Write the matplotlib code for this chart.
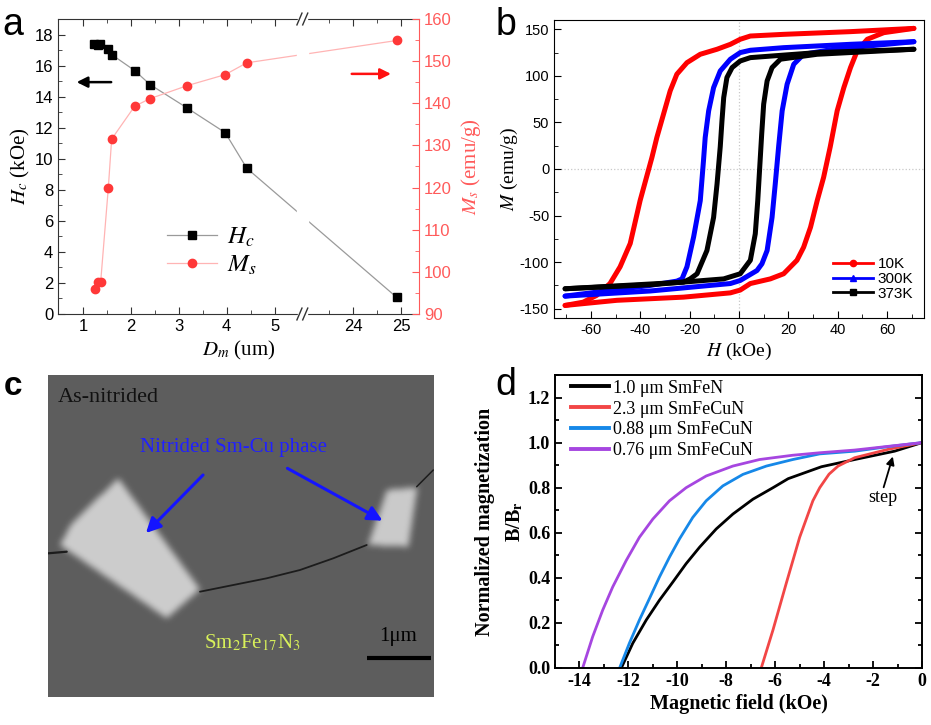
import numpy as np
import matplotlib
matplotlib.use("Agg")
import matplotlib.pyplot as plt
from matplotlib.lines import Line2D
from matplotlib.path import Path
from matplotlib.patches import Rectangle
from matplotlib.ticker import FixedLocator, MultipleLocator, FormatStrFormatter

plt.rcParams['font.family'] = ['Liberation Sans', 'DejaVu Sans']
plt.rcParams['mathtext.fontset'] = 'stix'
plt.rcParams['axes.unicode_minus'] = False
SERIF = ['Liberation Serif', 'DejaVu Serif']

# ---------------- data: panel a (Hc and Ms vs particle size) ----------------
dm_hc = [1.24, 1.31, 1.36, 1.53, 1.60, 2.08, 2.40, 3.17, 3.97, 4.42, 24.91]
hc = [17.36, 17.31, 17.40, 17.10, 16.71, 15.68, 14.78, 13.28, 11.68, 9.39, 1.07]
dm_ms = [1.25, 1.32, 1.37, 1.53, 1.60, 2.08, 2.40, 3.18, 3.97, 4.42, 24.91]
ms = [95.9, 97.5, 97.5, 119.9, 131.5, 139.3, 141.1, 144.2, 146.8, 149.6, 154.9]
a_xticks = [1, 2, 3, 4, 5, 24, 25]
a_xminor = [1.5, 2.5, 3.5, 4.5, 23.5, 24.5]
break_lo, break_hi = 5.58, 22.94

# ---------------- data: panel b (hysteresis loops) ----------------
h10_down = [70.9, 45.2, 18.1, 4.6, 0.5, -3.5, -8.9, -15.7, -21.1, -25.2, -27.9, -30.6,
            -33.3, -35.3, -40.1, -44.1, -48.2, -52.3, -57.7, -63.2, -70.5]
m10_down = [151, 147.5, 144.6, 142.8, 139.3, 133.9, 128.6, 123.2, 114.2, 101.8, 83.9, 58.9,
            33.9, 12.4, -34, -80, -105, -123, -135.7, -143, -146.5]
h10_up = [-70.5, -49.5, -22.5, -3.5, 0.5, 4.6, 12.7, 18.1, 23.5, 26.2, 29, 31.7, 34.3,
          37, 39.8, 42.5, 45.2, 47.9, 52, 58.7, 70.9]
m10_up = [-146.5, -141, -137.6, -133, -130, -123, -118, -112.5, -98, -84, -62.5, -34, -9,
          24, 62.5, 87.4, 108.9, 126.7, 139.3, 146.4, 151]

h300_down = [70.9, 45.2, 18.1, 4.6, 0.5, -3.5, -7.6, -10.3, -12.3, -13.7, -14.4, -15.7,
             -18.4, -21.1, -23.1, -25.2, -36, -70.5]
m300_down = [136.7, 133.9, 130.3, 127.5, 125, 117.9, 105.3, 87.4, 62.5, 33.9, 8.9, -34,
             -73, -105, -118, -120.4, -125, -136.5]
h300_up = [-70.5, -36, -3.5, 0.5, 7.3, 9.3, 11.4, 13.4, 14.7, 16.1, 17.5, 19.5, 22.2, 26.2, 38.4, 70.9]
m300_up = [-136.5, -131, -123, -119.7, -109, -101.8, -87.5, -52, -16, 25, 62.5, 91, 112.5, 123.2,
           128.6, 136.7]

h373_down = [70.9, 31.7, 4.6, 0.5, -2.8, -4.9, -6.2, -6.9, -7.6, -8.9, -10.3, -13, -17, -19.8,
             -22.5, -70.5]
m373_down = [128.6, 125, 119.6, 116, 108.9, 98.2, 76.7, 51.8, 24, -16, -52, -87.5, -112.5, -118,
             -121.5, -128.6]
h373_up = [-70.5, -36, -6.2, 0.5, 4.6, 6.6, 7.6, 8.4, 9.2, 10, 11.4, 13.4, 16.8, 31.7, 70.9]
m373_up = [-128.6, -124.3, -118, -112.5, -98, -69.6, -34, 1.7, 37.5, 69.6, 94.6, 108.9, 117.9, 123.2, 128.6]

loop_labels = ['10K', '300K', '373K']
loop_colors = ['#ff0000', '#0000ff', '#000000']
loop_markers = ['o', '^', 's']

# ---------------- data: panel c (micrograph sketch, image pixel coords) ----------------
img_w, img_h = 386, 322
patch_left = [(23.7, 148.3), (70.3, 103.3), (152.0, 214.3), (118.7, 243.3), (12.0, 170.0)]
patch_right = [(338.7, 115.0), (369.3, 112.3), (360.3, 171.7), (320.3, 170.0)]
crack_main = [(152, 216.7), (185.3, 210), (218.7, 203.3), (252, 195), (285.3, 183.3), (318.7, 170)]
crack_right = [(368.7, 111.7), (385.3, 95)]
crack_left = [(0.3, 178.3), (18.7, 176.7)]
arrow_tails = [(157, 98), (237, 92)]
arrow_heads = [(96, 160), (337, 147)]
scalebar = [(318.7, 283.3), (382.7, 283.3)]

# ---------------- data: panel d (demagnetization curves) ----------------
d_labels = ['1.0 \u03bcm SmFeN', '2.3 \u03bcm SmFeCuN', '0.88 \u03bcm SmFeCuN', '0.76 \u03bcm SmFeCuN']
d_colors = ['#000000', '#f24646', '#1688e8', '#a646e0']
h_black = [0, -1.12, -2.75, -4.11, -5.47, -6.09, -6.91, -7.73, -8.41, -9.09, -9.64, -10.18,
           -10.73, -11.27, -11.82, -12.29]
b_black = [1.0, 0.962, 0.925, 0.893, 0.840, 0.800, 0.749, 0.683, 0.617, 0.536, 0.463, 0.382,
           0.301, 0.213, 0.110, 0.0]
h_red = [0, -1.39, -2.75, -3.43, -3.8, -4.18, -4.46, -5.0, -5.55, -6.09, -6.57]
b_red = [1.0, 0.97, 0.933, 0.896, 0.86, 0.80, 0.742, 0.580, 0.375, 0.169, 0.0]
h_blue = [0, -1.4, -2.75, -4.18, -5.28, -6.36, -7.32, -8.14, -8.82, -9.37, -9.91, -10.32,
          -10.73, -11.14, -11.55, -11.96, -12.36]
b_blue = [1.0, 0.982, 0.962, 0.950, 0.925, 0.896, 0.859, 0.808, 0.742, 0.668, 0.573, 0.492,
          0.404, 0.308, 0.213, 0.110, 0.0]
h_purple = [0, -2.75, -4.18, -5.28, -6.64, -7.73, -8.82, -9.64, -10.32, -11.0, -11.55, -12.09,
            -12.64, -13.05, -13.46, -13.87]
b_purple = [1.0, 0.967, 0.955, 0.944, 0.925, 0.896, 0.852, 0.800, 0.742, 0.661, 0.580, 0.477,
            0.360, 0.257, 0.139, 0.0]

fig = plt.figure(figsize=(9.31, 7.25), dpi=100)
W, H = 931, 725


def box(l, t, r, b):
    return [l / W, 1 - b / H, (r - l) / W, (b - t) / H]


# =============== panel a ===============
ax = fig.add_axes(box(58, 19, 419, 314))
shift = break_hi - break_lo


def fwd(x):
    x = np.asarray(x, float)
    return np.where(x <= break_lo, x, np.where(x >= break_hi, x - shift, break_lo))


def inv(x):
    x = np.asarray(x, float)
    return np.where(x <= break_lo, x, x + shift)


ax.set_xscale('function', functions=(fwd, inv))
ax.set_xlim(0.48, 25.375)
ax.set_ylim(0, 19)
ln1, = ax.plot(dm_hc, hc, color='#9a9a9a', lw=0.9, marker='s', ms=5.5,
               mfc='black', mec='black', zorder=3)
ax.xaxis.set_major_locator(FixedLocator(a_xticks))
ax.xaxis.set_minor_locator(FixedLocator(a_xminor))
ax.yaxis.set_major_locator(MultipleLocator(2))
ax.yaxis.set_minor_locator(MultipleLocator(1))
ax.tick_params(which='both', direction='in', top=True, right=False, labelsize=12, color='#333333')
ax.tick_params(which='major', length=5)
ax.tick_params(which='minor', length=3)
ax.spines['right'].set_visible(False)
for s in ['left', 'top', 'bottom']:
    ax.spines[s].set_color('#333333')
ax.set_xlabel('$D_m$ (um)', family=SERIF, fontsize=15, labelpad=4)
ax.set_ylabel('$H_c$ (kOe)', family=SERIF, fontsize=15, labelpad=2)

ax2 = ax.twinx()
red_ax = '#ff5a5a'
ln2, = ax2.plot(dm_ms, ms, color='#ffb4b4', lw=0.9, marker='o', ms=6,
                mfc='#ff3838', mec='#ff3838', zorder=3)
ax2.set_ylim(90, 160)
ax2.yaxis.set_major_locator(MultipleLocator(10))
ax2.yaxis.set_minor_locator(MultipleLocator(5))
ax2.tick_params(which='both', direction='in', colors=red_ax, labelsize=12)
ax2.tick_params(which='major', length=5)
ax2.tick_params(which='minor', length=3)
for s in ['left', 'top', 'bottom']:
    ax2.spines[s].set_visible(False)
ax2.spines['right'].set_color(red_ax)
ax2.set_ylabel('$M_s$ (emu/g)', family=SERIF, fontsize=15, color=red_ax, labelpad=5)

# gap in the lines and break marks on the axis
ax2.axvspan(5.47, 23.05, ymin=0.012, ymax=0.988, color='white', zorder=5)
bx = (fwd(break_lo) - fwd(0.48)) / (fwd(25.375) - fwd(0.48))
for yb in (0, 1):
    ax2.add_patch(Rectangle((bx - 0.012, yb - 0.012), 0.024, 0.024, transform=ax2.transAxes,
                            color='white', clip_on=False, zorder=6))
    for dx in (-0.008, 0.008):
        ax2.plot([bx + dx - 0.007, bx + dx + 0.007], [yb - 0.02, yb + 0.02], color='#333333',
                 lw=1, transform=ax2.transAxes, clip_on=False, zorder=7)

ax2.annotate('', xy=(0.044, 0.786), xytext=(0.155, 0.786), xycoords='axes fraction',
             arrowprops=dict(arrowstyle='-|>', color='black', lw=1.8, mutation_scale=16))
ax2.annotate('', xy=(0.93, 0.814), xytext=(0.806, 0.814), xycoords='axes fraction',
             arrowprops=dict(arrowstyle='-|>', color='#ff1010', lw=1.8, mutation_scale=16))
ax2.legend([ln1, ln2], ['$H_c$', '$M_s$'], frameon=False, loc='center left',
           bbox_to_anchor=(0.24, 0.215), handlelength=2.0, fontsize=18, labelspacing=0.15,
           handletextpad=0.4)

# =============== panel b ===============
bx_ = fig.add_axes(box(554, 20, 924, 318))
bx_.axvline(0, color='#c8c8c8', ls=':', lw=0.9, zorder=0)
bx_.axhline(0, color='#c8c8c8', ls=':', lw=0.9, zorder=0)
branches = [(h10_down, m10_down, h10_up, m10_up),
            (h300_down, m300_down, h300_up, m300_up),
            (h373_down, m373_down, h373_up, m373_up)]
for (hd, md, hu, mu), col in zip(branches, loop_colors):
    bx_.plot(hd, md, color=col, lw=3.6, solid_capstyle='round', solid_joinstyle='round')
    bx_.plot(hu, mu, color=col, lw=3.6, solid_capstyle='round', solid_joinstyle='round')
bx_.set_xlim(-75, 75)
bx_.set_ylim(-160, 160)
bx_.xaxis.set_major_locator(MultipleLocator(20))
bx_.xaxis.set_minor_locator(MultipleLocator(10))
bx_.yaxis.set_major_locator(MultipleLocator(50))
bx_.yaxis.set_minor_locator(MultipleLocator(25))
bx_.tick_params(which='both', direction='in', labelsize=10.5)
bx_.tick_params(which='major', length=5)
bx_.tick_params(which='minor', length=3)
bx_.set_xlabel('$H$ (kOe)', family=SERIF, fontsize=14, labelpad=3)
bx_.set_ylabel('$M$ (emu/g)', family=SERIF, fontsize=14, labelpad=0)
proxies = [Line2D([], [], color=c, marker=m, ms=4.5, lw=2) for c, m in zip(loop_colors, loop_markers)]
bx_.legend(proxies, loop_labels, frameon=False, loc='lower right', bbox_to_anchor=(1.0, 0.022),
           fontsize=11, handlelength=2.6, labelspacing=0.05, handletextpad=0.3, borderpad=0.2)

# =============== panel c ===============
cx = fig.add_axes(box(48, 375, 434, 697))
uu, vv = np.meshgrid(np.arange(img_w) + 0.5, np.arange(img_h) + 0.5)
pts = np.column_stack([uu.ravel(), vv.ravel()])
img = np.full((img_h, img_w), 0.365)
for poly, level in [(patch_left, 0.80), (patch_right, 0.79)]:
    inside = Path(poly).contains_points(pts).reshape(img_h, img_w)
    img[inside] = level


def blur(a, k):
    ker = np.ones(k) / k
    p = np.pad(a, k, mode='edge')
    p = np.apply_along_axis(lambda r: np.convolve(r, ker, mode='same'), 1, p)
    p = np.apply_along_axis(lambda c: np.convolve(c, ker, mode='same'), 0, p)
    return p[k:-k, k:-k]


img = blur(blur(blur(img, 7), 7), 5)
cx.imshow(img, cmap='gray', vmin=0, vmax=1, extent=(0, img_w, img_h, 0),
          aspect='auto', interpolation='bilinear')
for crack, lw in [(crack_main, 1.3), (crack_right, 1.1), (crack_left, 1.6)]:
    cu, cv = zip(*crack)
    cx.plot(cu, cv, color='#1c1c1c', lw=lw, solid_capstyle='round')
for tail, head in zip(arrow_tails, arrow_heads):
    cx.annotate('', xy=head, xytext=tail,
                arrowprops=dict(arrowstyle='-|>', color='#1414ff', lw=2.2, mutation_scale=22))
su, sv = zip(*scalebar)
cx.plot(su, sv, color='black', lw=3, solid_capstyle='butt')
cx.text(10, 22, 'As-nitrided', family=SERIF, fontsize=16, color='#111111', va='center', ha='left')
cx.text(185, 72, 'Nitrided Sm-Cu phase', family=SERIF, fontsize=15, color='#2020ff',
        va='center', ha='center')
cx.text(204, 268, 'Sm$_2$Fe$_{17}$N$_3$', family=SERIF, fontsize=15, color='#d8f05a',
        va='center', ha='center')
cx.text(350, 262, '1\u03bcm', family=SERIF, fontsize=15, color='black', va='center', ha='center')
cx.set_xlim(0, img_w)
cx.set_ylim(img_h, 0)
cx.axis('off')

# =============== panel d ===============
dx_ = fig.add_axes(box(555, 375, 922, 668))
for hh, bb, col, lab in zip([h_black, h_red, h_blue, h_purple], [b_black, b_red, b_blue, b_purple],
                            d_colors, d_labels):
    dx_.plot(hh, bb, color=col, lw=2, label=lab, solid_joinstyle='round')
dx_.set_xlim(-15, 0)
dx_.set_ylim(0, 1.3)
dx_.xaxis.set_major_locator(MultipleLocator(2))
dx_.xaxis.set_minor_locator(MultipleLocator(1))
dx_.yaxis.set_major_locator(MultipleLocator(0.2))
dx_.yaxis.set_minor_locator(MultipleLocator(0.1))
dx_.yaxis.set_major_formatter(FormatStrFormatter('%.1f'))
dx_.tick_params(which='both', direction='in', right=True, width=1.3)
dx_.tick_params(which='major', length=5)
dx_.tick_params(which='minor', length=3)
for s in dx_.spines.values():
    s.set_linewidth(1.4)
for lab in dx_.get_xticklabels() + dx_.get_yticklabels():
    lab.set_family(SERIF)
    lab.set_fontweight('bold')
    lab.set_fontsize(13)
dx_.set_xlabel('Magnetic field (kOe)', family=SERIF, fontweight='bold', fontsize=14.5, labelpad=3)
dx_.set_ylabel('Normalized magnetization\nB/B$_\\mathbf{r}$', family=SERIF, fontweight='bold',
               fontsize=14.5, linespacing=1.6, labelpad=2)
leg = dx_.legend(frameon=False, loc='upper left', bbox_to_anchor=(0.0, 1.04),
                 prop={'family': SERIF, 'size': 13}, handlelength=2.1, labelspacing=0.22,
                 handletextpad=0.2)
for l in leg.get_lines():
    l.set_linewidth(2.8)
dx_.annotate('', xy=(-1.16, 0.95), xytext=(-1.6, 0.79),
             arrowprops=dict(arrowstyle='-|>', color='black', lw=1.3, mutation_scale=12))
dx_.text(-1.6, 0.755, 'step', family=SERIF, fontsize=13, ha='center', va='center')

# panel letters
fig.text(0.003, 0.99, 'a', fontsize=27, va='top', ha='left')
fig.text(0.532, 0.99, 'b', fontsize=27, va='top', ha='left')
fig.text(0.004, 0.488, 'c', fontsize=24, fontweight='bold', va='top', ha='left')
fig.text(0.532, 0.494, 'd', fontsize=27, va='top', ha='left')

fig.savefig('out.png', dpi=100)
